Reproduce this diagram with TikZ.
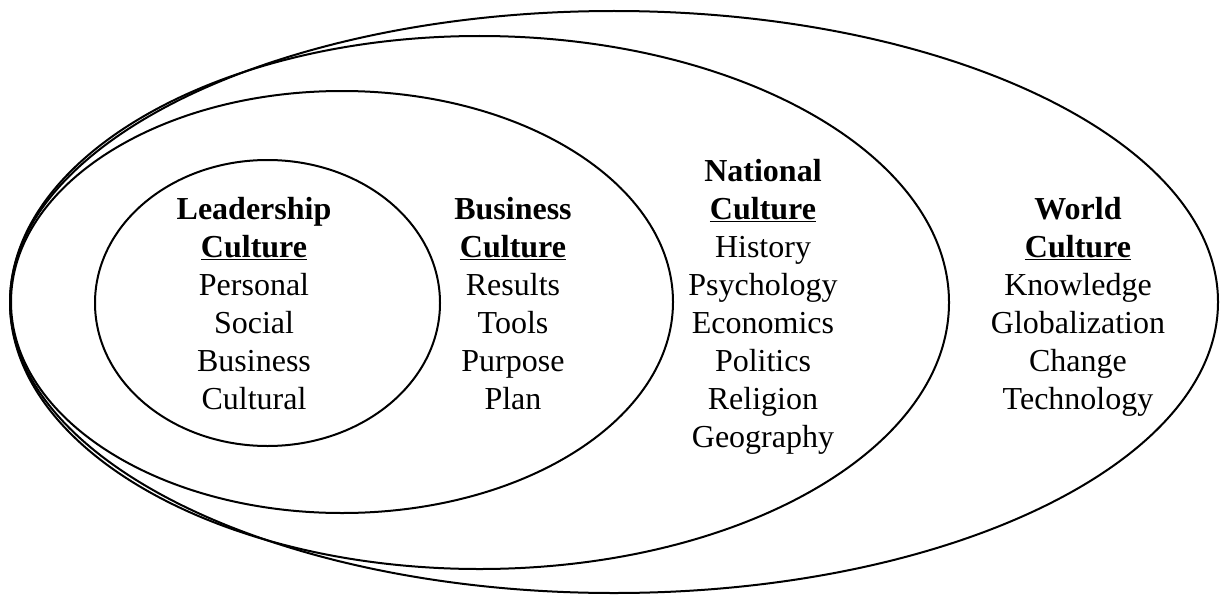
\documentclass[tikz,border=0pt]{standalone}
\usepackage{fontspec}
\setmainfont{Liberation Serif}
\tikzset{
  ring/.style={line width=2pt, black},
  listtext/.style={align=center, anchor=base, inner sep=0pt,
    font=\fontsize{32}{38}\selectfont}
}
\newcommand{\cultureline}{\underline{\textbf{Culture}}}
\begin{document}
\begin{tikzpicture}[x=1pt,y=-1pt]
        \useasboundingbox (0,0) rectangle (1225,594);
        %ellipses
        \draw[ring] (614,302) ellipse (604 and 291);
        \draw[ring] (479.5,302.5) ellipse (469.5 and 266.5);
        \draw[ring] (342,302) ellipse (331 and 211);
        \draw[ring] (267.5,303) ellipse (172.5 and 143);

        %texts
        \node[listtext] (leadership) at (254,409) {\textbf{Leadership}\\\cultureline\\Personal\\Social\\Business\\Cultural};
        \node[listtext] (business) at (513,409) {\textbf{Business}\\\cultureline\\Results\\Tools\\Purpose\\Plan};
        \node[listtext] (national) at (763,447) {\textbf{National}\\\cultureline\\History\\Psychology\\Economics\\Politics\\Religion\\Geography};
        \node[listtext] (world) at (1078,409) {\textbf{World}\\\cultureline\\Knowledge\\Globalization\\Change\\Technology};
    \end{tikzpicture}
\end{document}
